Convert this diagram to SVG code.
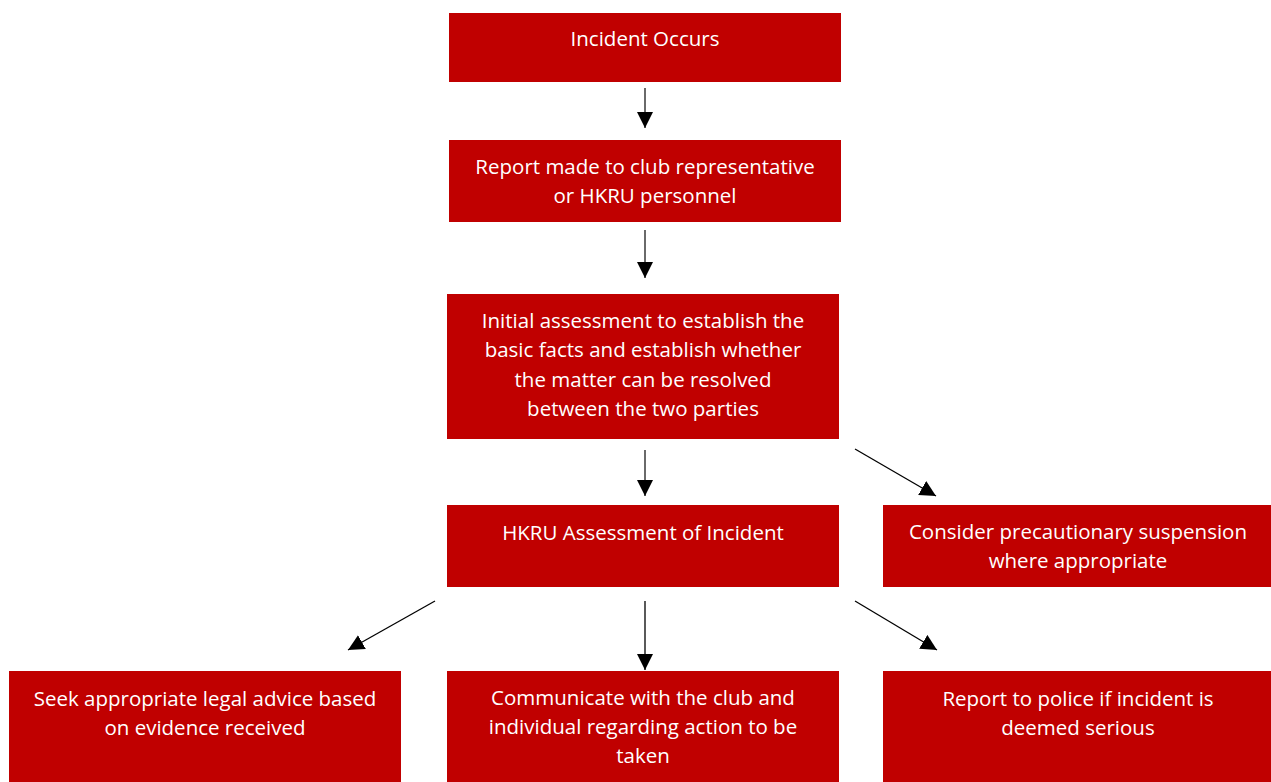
<svg xmlns="http://www.w3.org/2000/svg" width="1271" height="782" viewBox="0 0 1271 782">
<style>
.box{fill:#C00000}
.t{font-family:"Open Sans","Liberation Sans",Arial,sans-serif;font-size:20.5px;fill:#FFFFFF;text-anchor:middle}
.c{stroke:#000;stroke-width:1.3;fill:none;marker-end:url(#ah)}
.g{stroke:#6a6a6a;stroke-width:2;fill:none;marker-end:url(#ah)}
</style>
<defs>
<marker id="ah" markerWidth="17" markerHeight="17" refX="16" refY="8.5" orient="auto" markerUnits="userSpaceOnUse">
<path d="M0,0.5 L16,8.5 L0,16.5 Z" fill="#000"/>
</marker>
</defs>
<rect width="1271" height="782" fill="#fff"/>
<g id="n1"><rect class="box" x="449" y="13" width="392" height="69"/>
<text class="t" x="645" y="46">Incident Occurs</text></g>
<g id="n2"><rect class="box" x="449" y="140" width="392" height="82"/>
<text class="t" x="645" y="174">Report made to club representative</text>
<text class="t" x="645" y="203">or HKRU personnel</text></g>
<g id="n3"><rect class="box" x="447" y="294" width="392" height="145"/>
<text class="t" x="643" y="328">Initial assessment to establish the</text>
<text class="t" x="643" y="357">basic facts and establish whether</text>
<text class="t" x="643" y="387">the matter can be resolved</text>
<text class="t" x="643" y="416">between the two parties</text></g>
<g id="n4"><rect class="box" x="447" y="505" width="392" height="82"/>
<text class="t" x="643" y="540">HKRU Assessment of Incident</text></g>
<g id="n5"><rect class="box" x="883" y="505" width="388" height="82"/>
<text class="t" x="1078" y="539">Consider precautionary suspension</text>
<text class="t" x="1078" y="568">where appropriate</text></g>
<g id="n6"><rect class="box" x="9" y="671" width="392" height="111"/>
<text class="t" x="205" y="706">Seek appropriate legal advice based</text>
<text class="t" x="205" y="735">on evidence received</text></g>
<g id="n7"><rect class="box" x="447" y="671" width="392" height="111"/>
<text class="t" x="643" y="705">Communicate with the club and</text>
<text class="t" x="643" y="734">individual regarding action to be</text>
<text class="t" x="643" y="763">taken</text></g>
<g id="n8"><rect class="box" x="883" y="671" width="388" height="111"/>
<text class="t" x="1078" y="706">Report to police if incident is</text>
<text class="t" x="1078" y="735">deemed serious</text></g>
<g id="connectors">
<line class="g" x1="645" y1="88" x2="645" y2="128"/>
<line class="g" x1="645" y1="230" x2="645" y2="278"/>
<line class="g" x1="645" y1="450" x2="645" y2="496"/>
<line class="c" x1="855" y1="449" x2="936" y2="496"/>
<line class="c" x1="435" y1="601" x2="348" y2="650"/>
<line class="c" x1="645" y1="601" x2="645" y2="670"/>
<line class="c" x1="855" y1="601" x2="937" y2="650"/>
</g>
</svg>
